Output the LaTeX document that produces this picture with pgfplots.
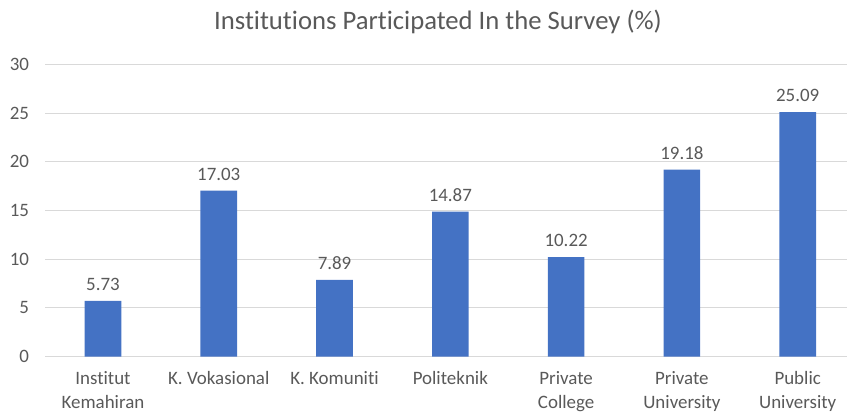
\documentclass[border=0pt]{standalone}
\usepackage{fontspec}
\setmainfont[RawFeature={-liga;-calt;-clig;-dlig}]{Carlito}
\usepackage{pgfplots}
\pgfplotsset{compat=1.18}
\definecolor{barblue}{HTML}{4472C4}
\definecolor{txt}{HTML}{595959}
\definecolor{gridc}{HTML}{D9D9D9}
\begin{document}
\begin{tikzpicture}
\begin{axis}[
  at={(33.8pt,43pt)}, anchor=south west,
  scale only axis, width=607.9pt, height=219.3pt,
  xmin=-0.5, xmax=6.5, ymin=0, ymax=30,
  ytick={0,5,...,30},
  xtick={0,...,6},
  xticklabels={{Institut\\Kemahiran},{K. Vokasional},{K. Komuniti},{Politeknik},{Private\\College},{Private\\University},{Public\\University}},
  xticklabel style={align=center, font=\fontsize{14.2}{17.5}\selectfont, text=txt},
  yticklabel style={font=\fontsize{14.2}{17}\selectfont, text=txt},
  /pgf/number format/assume math mode=true,
  xmajorgrids=false, ymajorgrids=true,
  major grid style={draw=gridc, line width=0.75pt},
  axis x line*=bottom,
  x axis line style={draw=gridc, line width=0.75pt, -},
  axis y line*=left,
  y axis line style={draw=none},
  tick style={draw=none},
  yticklabel shift=8.5pt,
  xticklabel shift=3.5pt,
  ybar, bar width=27.5pt,
  nodes near coords,
  every node near coord/.append style={font=\fontsize{14.2}{17}\selectfont, text=txt, yshift=4pt},
  nodes near coords style={/pgf/number format/.cd, fixed, precision=2, fixed zerofill, assume math mode=true},
  clip=false,
]
\addplot[fill=barblue, draw=none] coordinates {(0,5.73) (1,17.03) (2,7.89) (3,14.87) (4,10.22) (5,19.18) (6,25.09)};
\end{axis}
\node[text=txt, font=\fontsize{20}{24}\selectfont] at (328.5pt,294pt) {Institutions Participated In the Survey (\%)};
\pgfresetboundingbox
\path (0,0) rectangle (635.25pt,310.5pt);
\end{tikzpicture}
\end{document}
